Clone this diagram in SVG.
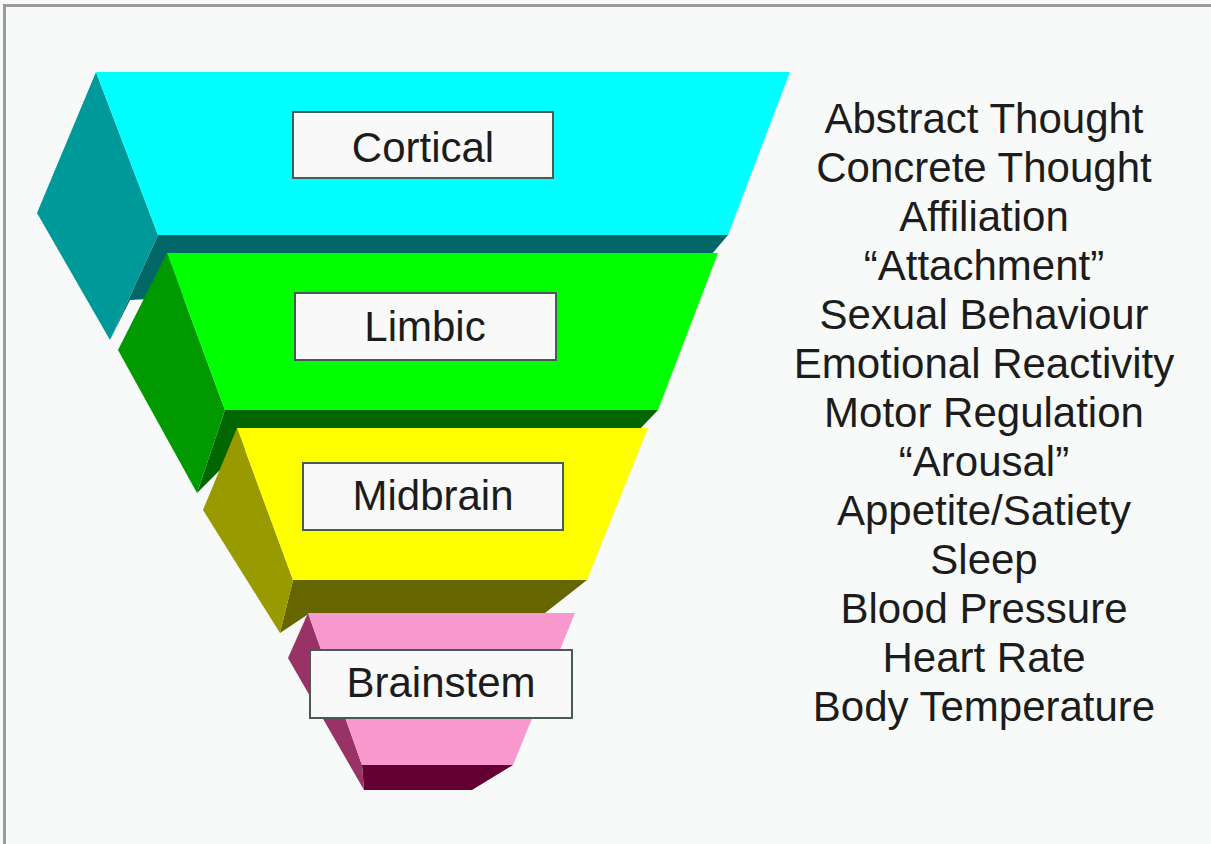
<svg xmlns="http://www.w3.org/2000/svg" width="1211" height="844" viewBox="0 0 1211 844">
<style>
.lbl{fill:#f8f9f8;stroke:#4a5a55;stroke-width:2}
.t{font-family:"Liberation Sans",Arial,sans-serif;font-size:42px;fill:#1c1c1c;text-anchor:middle}
</style>
<rect x="0" y="0" width="1211" height="844" fill="#f7faf8"/>
<rect x="4" y="4" width="1207" height="3" fill="#9a9a9a"/>
<rect x="3" y="4" width="3" height="840" fill="#9a9a9a"/>
<g id="cortical">
<polygon points="158,235 728,235 700,268 130,300 110,340" fill="#006666"/>
<polygon points="96,72 37,213 110,340 158,235" fill="#009999"/>
<polygon points="96,72 790,72 728,235 158,235" fill="#00ffff"/>
<rect class="lbl" x="293" y="112" width="260" height="66"/>
<text class="t" x="423" y="162">Cortical</text>
</g>
<g id="limbic">
<polygon points="225,410 658,410 620,450 240,450 197,493" fill="#006600"/>
<polygon points="167,253 118,350 197,493 225,410" fill="#009900"/>
<polygon points="167,253 718,253 658,410 225,410" fill="#00ff00"/>
<rect class="lbl" x="295" y="293" width="261" height="67"/>
<text class="t" x="425" y="341">Limbic</text>
</g>
<g id="midbrain">
<polygon points="293,580 587,580 545,613 310,613 280,633" fill="#666600"/>
<polygon points="237,428 203,510 280,633 293,580" fill="#999900"/>
<polygon points="237,428 648,428 587,580 293,580" fill="#ffff00"/>
<rect class="lbl" x="303" y="463" width="260" height="67"/>
<text class="t" x="433" y="510">Midbrain</text>
</g>
<g id="brainstem">
<polygon points="362,765 513,765 472,790 364,790" fill="#660033"/>
<polygon points="308,613 288,658 364,790 362,765" fill="#993366"/>
<polygon points="308,613 575,613 513,765 362,765" fill="#f799cc"/>
<rect class="lbl" x="310" y="650" width="262" height="68"/>
<text class="t" x="441" y="697">Brainstem</text>
</g>
<g id="functions">
<text class="t" x="984" y="133">Abstract Thought</text>
<text class="t" x="984" y="182">Concrete Thought</text>
<text class="t" x="984" y="231">Affiliation</text>
<text class="t" x="984" y="280">“Attachment”</text>
<text class="t" x="984" y="329">Sexual Behaviour</text>
<text class="t" x="984" y="378">Emotional Reactivity</text>
<text class="t" x="984" y="427">Motor Regulation</text>
<text class="t" x="984" y="476">“Arousal”</text>
<text class="t" x="984" y="525">Appetite/Satiety</text>
<text class="t" x="984" y="574">Sleep</text>
<text class="t" x="984" y="623">Blood Pressure</text>
<text class="t" x="984" y="672">Heart Rate</text>
<text class="t" x="984" y="721">Body Temperature</text>
</g>
<g id="connectors"/>
</svg>
